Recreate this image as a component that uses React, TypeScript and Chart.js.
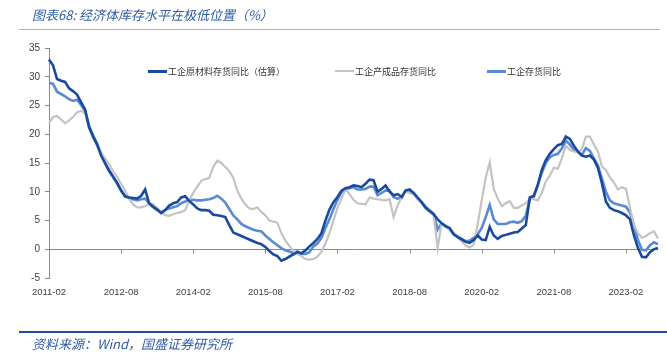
import React, { useEffect, useRef } from 'react';
import { Chart, registerables } from 'chart.js';

Chart.register(...registerables);

// ---------- data ----------
const START_YEAR = 2011;
const START_MONTH = 2;
const MONTH_COUNT = 153; // 2011-02 .. 2023-10
const LABEL_EVERY = 18;

const categories: string[] = Array.from({ length: MONTH_COUNT }, (_, i) => {
  const m = START_MONTH - 1 + i;
  const y = START_YEAR + Math.floor(m / 12);
  const mm = (m % 12) + 1;
  return `${y}-${String(mm).padStart(2, '0')}`;
});

const SERIES_NAMES = ['工企原材料存货同比（估算）', '工企产成品存货同比', '工企存货同比'];

// 工企原材料存货同比（估算）
const rawMaterialInventory = [
  33.0, 32.0, 29.6, 29.3, 29.1, 28.0, 27.5, 26.9, 25.6, 24.3,
  21.2, 19.6, 18.2, 16.3, 15.0, 13.7, 12.6, 11.6, 10.2, 9.2,
  9.0, 8.9, 8.8, 9.3, 10.4, 8.0, 7.4, 6.9, 6.3, 6.8,
  7.6, 8.0, 8.2, 9.0, 9.2, 8.4, 7.8, 7.1, 6.8, 6.8,
  6.7, 6.0, 5.9, 5.8, 5.6, 4.2, 2.9, 2.6, 2.3, 2.0,
  1.7, 1.4, 1.1, 0.9, 0.4, -0.3, -0.9, -1.2, -2.0, -1.7,
  -1.3, -0.9, -0.5, -0.7, -0.2, 0.5, 1.1, 1.8, 2.8, 5.0,
  6.9, 8.2, 9.1, 10.2, 10.6, 10.8, 11.1, 11.0, 10.8, 11.4,
  12.1, 12.0, 10.0, 10.5, 11.1, 10.0, 9.4, 9.6, 9.1, 10.2,
  10.4, 9.8, 9.0, 8.2, 7.2, 6.6, 6.1, 5.2, 4.5, 4.0,
  3.7, 2.6, 2.1, 1.7, 1.3, 1.1, 1.6, 2.4, 1.7, 1.6,
  3.9, 2.4, 1.8, 2.3, 2.5, 2.7, 2.9, 3.0, 3.6, 4.2,
  9.0, 9.3, 11.2, 13.8, 15.5, 16.6, 17.4, 18.1, 18.3, 19.6,
  19.2, 18.0, 17.0, 16.3, 16.1, 16.3, 15.6, 14.2, 11.5, 8.3,
  7.2, 6.8, 6.6, 6.3, 5.9, 5.2, 2.4, 0.2, -1.3, -1.4,
  -0.5, 0.0, 0.2,
];

// 工企产成品存货同比
const finishedGoodsInventory = [
  22.0, 23.0, 23.2, 22.6, 21.9, 22.4, 23.0, 23.8, 24.1, 23.6,
  21.2, 19.3, 18.0, 16.8, 15.8, 14.8, 13.6, 12.6, 11.4, 10.2,
  8.8, 7.8, 7.3, 7.3, 7.5, 7.9, 7.8, 7.2, 6.5, 5.9,
  5.8, 6.1, 6.3, 6.5, 6.8, 8.5, 9.8, 10.9, 11.9, 12.2,
  12.4, 14.3, 15.4, 15.0, 14.3, 13.6, 12.4, 10.2, 8.8, 7.8,
  7.1, 7.0, 7.3, 6.5, 5.9, 5.0, 4.8, 4.6, 2.8, 1.5,
  0.6, -0.3, -0.8, -1.2, -1.7, -1.8, -1.7, -1.3, -0.4, 1.0,
  2.8, 5.0, 7.2, 8.8, 10.4, 9.6, 8.6, 8.0, 7.9, 7.8,
  9.0, 8.8, 8.7, 8.6, 8.5, 8.7, 5.6, 7.6, 9.1, 10.0,
  9.8, 9.5, 8.9, 8.0, 7.2, 6.6, 5.9, 0.2, 4.5, 3.9,
  3.4, 2.8, 2.1, 1.4, 0.6, 0.3, 0.8, 4.4, 8.5, 12.5,
  15.1, 10.5, 8.8, 7.5, 8.0, 8.4, 7.2, 7.2, 7.6, 8.0,
  8.8, 8.7, 8.5, 9.8, 11.8, 12.8, 14.2, 14.0, 15.8, 18.0,
  17.3, 17.0, 16.9, 17.4, 19.6, 19.6, 18.2, 17.0, 14.4, 13.8,
  12.5, 11.6, 10.4, 10.8, 10.5, 7.2, 4.2, 2.8, 2.0, 2.3,
  2.8, 3.1, 1.9,
];

// 工企存货同比
const totalInventory = [
  28.9, 28.8, 27.4, 27.0, 26.6, 26.1, 25.8, 26.0, 25.1, 24.1,
  21.5, 19.8, 18.4, 16.6, 14.9, 13.6, 12.6, 11.4, 10.2, 9.2,
  8.9, 8.7, 8.5, 8.7, 8.8, 8.0, 7.3, 6.8, 6.4, 6.8,
  7.1, 7.3, 7.5, 8.0, 8.3, 8.5, 8.6, 8.5, 8.5, 8.6,
  8.7, 8.9, 9.3, 8.8, 8.1, 7.0, 5.9, 5.2, 4.4, 4.0,
  3.7, 3.4, 3.2, 3.1, 2.4, 1.8, 1.2, 0.7, 0.2, -0.2,
  -0.4, -0.7, -0.4, -0.8, -0.8, -0.5, 0.5, 1.0, 2.0, 3.7,
  5.2, 7.0, 8.6, 9.9, 10.5, 10.6, 10.8, 10.4, 10.4, 10.5,
  10.9, 10.9, 9.4, 9.8, 10.2, 10.2, 9.1, 8.8, 8.9, 10.2,
  10.2, 9.7, 8.8, 8.1, 7.4, 6.8, 6.2, 3.4, 4.5, 4.1,
  3.4, 2.7, 2.2, 1.8, 1.4, 1.5, 2.0, 2.6, 3.7, 5.6,
  7.7, 5.2, 4.4, 4.4, 4.4, 4.7, 4.8, 4.6, 4.9, 5.8,
  8.7, 9.1, 11.2, 13.3, 15.0, 16.0, 16.4, 16.6, 17.5, 18.9,
  18.2, 17.3, 16.9, 16.4, 17.6, 17.1, 15.8, 14.6, 12.3, 10.0,
  8.5, 8.0, 7.8, 7.6, 7.4, 6.4, 4.2, 1.6, -0.1, -0.2,
  0.7, 1.2, 0.9,
];

const Y_MIN = -5;
const Y_MAX = 35;
const Y_STEP = 5;

// ---------- styles ----------
const DARK = '#1A4A9E';
const GRAY = '#C3C3C3';
const MID = '#5A8AD4';
const AXIS = '#8A8A8A';
const TEXT = '#404040';
const TITLE_BLUE = '#2E5CA8';
const SERIES_COLORS = [DARK, GRAY, MID];
const SERIES_WIDTHS = [2.6, 2.2, 2.6];

const zeroAxisPlugin = {
  id: 'zeroAxis',
  beforeDatasetsDraw(chart: any) {
    const { ctx, chartArea, scales } = chart;
    const y0 = Math.round(scales.y.getPixelForValue(0)) + 0.5;
    ctx.save();
    ctx.strokeStyle = AXIS;
    ctx.lineWidth = 1;
    ctx.beginPath();
    ctx.moveTo(chartArea.left, y0);
    ctx.lineTo(chartArea.right, y0);
    for (let i = LABEL_EVERY; i < categories.length; i += LABEL_EVERY) {
      const x = Math.round(scales.x.getPixelForValue(i)) + 0.5;
      ctx.moveTo(x, y0);
      ctx.lineTo(x, y0 + 4);
    }
    ctx.stroke();
    ctx.restore();
  },
};

const LEGEND_POS = [
  { left: 148, width: 19 },
  { left: 335, width: 19 },
  { left: 487, width: 19 },
];

export default function App() {
  const ref = useRef<HTMLCanvasElement>(null);

  useEffect(() => {
    const seriesData = [rawMaterialInventory, finishedGoodsInventory, totalInventory];
    const chart = new Chart(ref.current as HTMLCanvasElement, {
      type: 'line',
      data: {
        labels: categories,
        datasets: SERIES_NAMES.map((name, k) => ({
          label: name,
          data: seriesData[k],
          borderColor: SERIES_COLORS[k],
          backgroundColor: SERIES_COLORS[k],
          borderWidth: SERIES_WIDTHS[k],
          pointRadius: 0,
          tension: 0,
          fill: false,
        })),
      },
      options: {
        responsive: false,
        animation: false,
        layout: { padding: { left: 0, right: 5, top: 48, bottom: 45 } },
        plugins: { legend: { display: false }, tooltip: { enabled: false } },
        scales: {
          x: {
            type: 'category',
            grid: { display: false, drawTicks: false },
            border: { display: false },
            ticks: {
              autoSkip: false,
              maxRotation: 0,
              minRotation: 0,
              padding: 9,
              color: TEXT,
              font: { family: 'Liberation Sans', size: 9.5 },
              callback: (_v: any, i: number) => (i % LABEL_EVERY === 0 ? categories[i] : ''),
            },
            afterFit: (s: any) => {
              s.height = 30;
            },
          },
          y: {
            min: Y_MIN,
            max: Y_MAX,
            ticks: {
              stepSize: Y_STEP,
              padding: 5,
              color: TEXT,
              font: { family: 'Liberation Sans', size: 10 },
            },
            grid: { drawOnChartArea: false, tickLength: 4, color: AXIS },
            border: { color: AXIS },
            afterFit: (s: any) => {
              s.width = 49;
            },
          },
        },
      },
      plugins: [zeroAxisPlugin],
    });
    return () => chart.destroy();
  }, []);

  return (
    <div style={{ position: 'absolute', left: 0, top: 0, width: 667, height: 353, background: '#fff', overflow: 'hidden' }}>
      <canvas ref={ref} width={667} height={353} style={{ position: 'absolute', left: 0, top: 0 }} />
      <div
        style={{
          position: 'absolute', left: 32, top: 6, fontFamily: '"Noto Sans CJK SC", sans-serif', fontStyle: 'italic',
          fontSize: 13, lineHeight: '18px', color: TITLE_BLUE, whiteSpace: 'nowrap',
        }}
      >
        图表68: 经济体库存水平在极低位置（%）
      </div>
      <div style={{ position: 'absolute', left: 19, top: 29, width: 641, height: 1, background: '#9FB4D8' }} />
      {SERIES_NAMES.map((name, k) => (
        <div key={name} style={{ position: 'absolute', left: LEGEND_POS[k].left, top: 64, height: 14, display: 'flex', alignItems: 'center', whiteSpace: 'nowrap' }}>
          <div style={{ width: LEGEND_POS[k].width, height: k === 1 ? 2 : 3, background: SERIES_COLORS[k], marginRight: 1 }} />
          <span style={{ fontFamily: '"Noto Sans CJK SC", sans-serif', fontSize: 9, color: '#333' }}>{name}</span>
        </div>
      ))}
      <div style={{ position: 'absolute', left: 19, top: 331, width: 648, height: 2, background: '#1F4E9C' }} />
      <div
        style={{
          position: 'absolute', left: 32, top: 335, fontFamily: '"Noto Sans CJK SC", sans-serif', fontStyle: 'italic',
          fontSize: 13, lineHeight: '18px', color: TITLE_BLUE, whiteSpace: 'nowrap',
        }}
      >
        资料来源：Wind，国盛证券研究所
      </div>
    </div>
  );
}
